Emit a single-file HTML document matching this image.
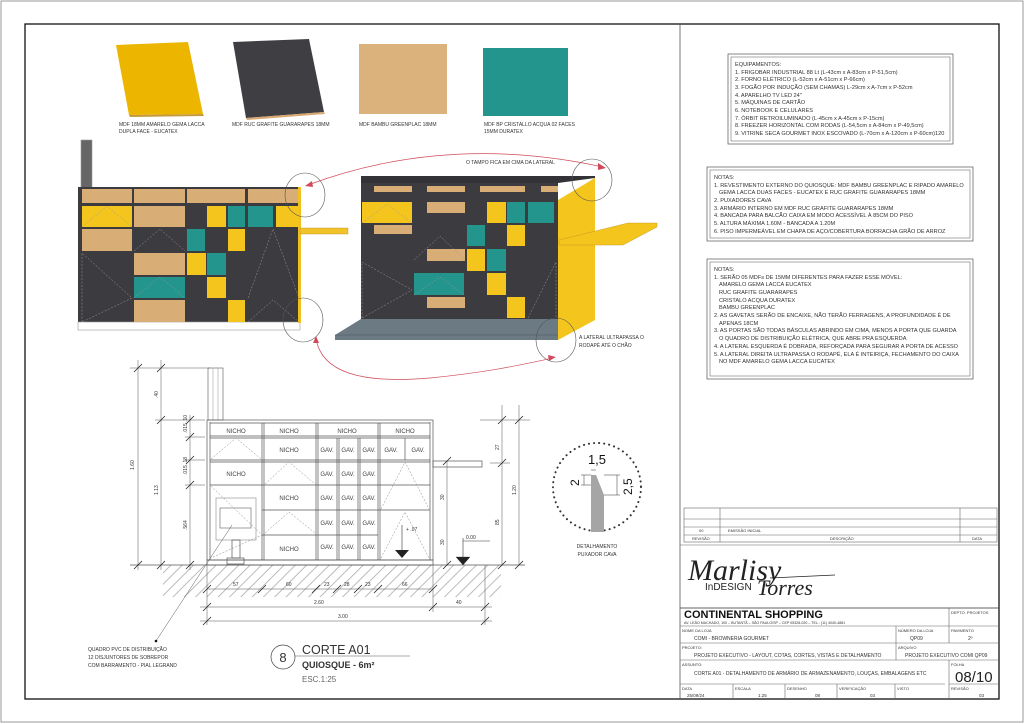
<!DOCTYPE html>
<html><head><meta charset="utf-8"><style>
html,body{margin:0;padding:0;background:#fff}
svg{display:block}
text{font-family:"Liberation Sans",sans-serif;fill:#333}
.s{font-size:5.6px}
.t{font-size:5px}
.m{font-size:6.5px;fill:#444}
.g{font-size:6px;fill:#444;text-anchor:middle}
</style></head><body>
<svg width="1024" height="724" viewBox="0 0 1024 724" xmlns="http://www.w3.org/2000/svg">
<defs>
<pattern id="h" width="8" height="8" patternUnits="userSpaceOnUse" patternTransform="rotate(45)">
<line x1="0" y1="0" x2="0" y2="8" stroke="#aaa" stroke-width="1.6"/></pattern>
</defs>
<rect x="1" y="1" width="1022" height="721" fill="#fff" stroke="#999" stroke-width="1"/>
<rect x="25" y="24" width="974" height="675" fill="none" stroke="#111" stroke-width="1.3"/>
<line x1="680" y1="24" x2="680" y2="699" stroke="#555" stroke-width="0.8"/>

<!-- swatches -->
<polygon points="116,45 188,42 203,114 129,115" fill="#ebb500"/>
<polygon points="129,115 203,114 204,116 130,117" fill="#c49a3a"/>
<polygon points="233,42 309,39 324,112 246,118" fill="#3f3e42"/>
<polygon points="246,118 324,112 325,114 247,120" fill="#d8a870"/>
<rect x="359" y="44" width="88" height="70" fill="#dcb27c"/>
<rect x="483" y="48" width="85" height="68" fill="#23958c"/>
<text class="t" x="119" y="126">MDF 18MM AMARELO GEMA LACCA</text>
<text class="t" x="119" y="133">DUPLA FACE - EUCATEX</text>
<text class="t" x="232" y="126">MDF RUC GRAFITE GUARARAPES 18MM</text>
<text class="t" x="359" y="126">MDF BAMBU GREENPLAC 18MM</text>
<text class="t" x="484" y="126">MDF BP CRISTALLO ACQUA 02 FACES</text>
<text class="t" x="484" y="133">15MM DURATEX</text>

<!-- left colored elevation -->
<rect x="81" y="140" width="11" height="49" fill="#666" stroke="#999" stroke-width="0.6"/>
<rect x="78" y="187" width="222" height="136" fill="#3c3b40"/>
<rect x="78" y="322" width="222" height="8" fill="#fff" stroke="#999" stroke-width="0.6"/>
<rect x="298" y="187" width="3" height="136" fill="#f0c020"/>
<rect x="300" y="228" width="48" height="6" fill="#f2c22a" stroke="#b89020" stroke-width="0.4"/>
<g fill="#d9ad76">
<rect x="82" y="189" width="50" height="14"/><rect x="134" y="189" width="51" height="14"/>
<rect x="187" y="189" width="58" height="14"/><rect x="248" y="189" width="50" height="14"/>
<rect x="134" y="206" width="51" height="21"/><rect x="82" y="229" width="50" height="22"/>
<rect x="134" y="253" width="51" height="22"/><rect x="134" y="300" width="51" height="22"/>
</g>
<g fill="#f4c51d">
<rect x="82" y="206" width="50" height="21"/><rect x="207" y="206" width="19" height="21"/>
<rect x="276" y="206" width="23" height="21"/><rect x="228" y="229" width="17" height="22"/>
<rect x="187" y="253" width="19" height="22"/><rect x="207" y="277" width="19" height="21"/>
<rect x="228" y="300" width="17" height="22"/>
</g>
<g fill="#23958c">
<rect x="228" y="206" width="17" height="21"/><rect x="248" y="206" width="25" height="21"/>
<rect x="187" y="229" width="18" height="22"/><rect x="207" y="253" width="19" height="22"/>
<rect x="134" y="277" width="51" height="21"/>
</g>
<g fill="none" stroke="#999" stroke-width="0.5" stroke-dasharray="2,1.5">
<polyline points="82,227 107,206 132,227"/><polyline points="134,251 160,229 185,251"/>
<polyline points="248,298 273,229 299,298"/><polyline points="82,322 82,253 132,298 82,322"/>
<polyline points="248,322 273,300 299,322"/><polyline points="134,298 160,277 185,298"/>
</g>

<!-- iso view -->
<polygon points="361,176 595,176 595,178 558,183 361,183" fill="#333236"/>
<rect x="361" y="183" width="197" height="136" fill="#3c3b40"/>
<polygon points="558,200 595,178 595,320 558,340" fill="#f4c51d"/>
<polygon points="335,335 361,319 558,319 558,340 335,340" fill="#6c7a84"/>
<line x1="335" y1="335" x2="558" y2="335" stroke="#4a555c" stroke-width="0.6"/>
<polygon points="559,240 628,223 657,223 657,227 623,245 559,245" fill="#f4c51d" stroke="#b89020" stroke-width="0.4"/>
<g fill="#d9ad76">
<rect x="374" y="186" width="38" height="6"/><rect x="427" y="186" width="38" height="6"/>
<rect x="480" y="186" width="45" height="6"/><rect x="541" y="186" width="17" height="6"/>
<rect x="427" y="202" width="38" height="11"/><rect x="374" y="225" width="38" height="9"/>
<rect x="427" y="249" width="38" height="12"/><rect x="427" y="297" width="38" height="11"/>
</g>
<g fill="#f4c51d">
<rect x="362" y="202" width="50" height="21"/><rect x="487" y="202" width="19" height="21"/>
<rect x="507" y="225" width="18" height="21"/><rect x="467" y="249" width="18" height="22"/>
<rect x="487" y="273" width="19" height="22"/><rect x="507" y="297" width="18" height="21"/>
</g>
<g fill="#23958c">
<rect x="507" y="202" width="18" height="21"/><rect x="528" y="202" width="26" height="21"/>
<rect x="467" y="225" width="18" height="21"/><rect x="487" y="249" width="19" height="22"/>
<rect x="414" y="273" width="50" height="22"/>
</g>
<g fill="none" stroke="#999" stroke-width="0.5" stroke-dasharray="2,1.5">
<polyline points="362,223 387,204 412,223"/><polyline points="414,260 440,236 465,260"/>
<polyline points="362,318 362,262 412,290 362,318"/><polyline points="414,295 440,277 464,295"/>
<polyline points="528,318 556,262 556,318"/>
</g>

<!-- circles & arrows -->
<g fill="none" stroke="#555" stroke-width="0.6">
<ellipse cx="305" cy="195" rx="20" ry="22"/><ellipse cx="303" cy="320" rx="20" ry="22"/>
<ellipse cx="592" cy="180" rx="20" ry="21"/><ellipse cx="556" cy="340" rx="20" ry="22"/>
</g>
<g fill="none" stroke="#d24a5a" stroke-width="0.7">
<path d="M308,185 C380,158 480,140 603,167"/>
<path d="M316,339 C322,372 360,384 430,378 C490,372 520,365 553,358"/>
</g>
<g fill="#d24a5a">
<polygon points="305,186 312,181 313,187"/><polygon points="606,168 598,163 598,170"/>
<polygon points="316,336 313,343 319,343"/><polygon points="556,357 548,355 549,361"/>
</g>
<text class="t" x="466" y="164">O TAMPO FICA EM CIMA DA LATERAL</text>
<text class="t" x="579" y="339">A LATERAL ULTRAPASSA O</text>
<text class="t" x="579" y="347">RODAPÉ ATÉ O CHÃO</text>

<!-- elevation drawing -->
<rect x="163" y="565" width="338" height="32" fill="url(#h)"/>
<line x1="130" y1="565" x2="525" y2="565" stroke="#555" stroke-width="0.7"/>
<rect x="208" y="368" width="15" height="52" fill="#fff" stroke="#555" stroke-width="0.6"/>
<line x1="213" y1="368" x2="213" y2="420" stroke="#777" stroke-width="0.4"/>
<line x1="218" y1="368" x2="218" y2="420" stroke="#777" stroke-width="0.4"/>
<g fill="none" stroke="#555" stroke-width="0.7">
<rect x="207" y="420" width="226" height="140"/>
<rect x="207" y="560" width="226" height="5"/>
<line x1="210" y1="422" x2="210" y2="560"/><line x1="430" y1="422" x2="430" y2="560"/>
<line x1="210" y1="423" x2="430" y2="423"/>
<line x1="210" y1="436" x2="430" y2="436"/><line x1="210" y1="438" x2="430" y2="438"/>
<line x1="210" y1="460" x2="430" y2="460"/><line x1="210" y1="462" x2="430" y2="462"/>
<line x1="210" y1="485" x2="430" y2="485"/><line x1="262" y1="510" x2="430" y2="510"/>
<line x1="262" y1="535" x2="378" y2="535"/>
<line x1="262" y1="423" x2="262" y2="560"/><line x1="264" y1="423" x2="264" y2="560"/>
<line x1="316" y1="423" x2="316" y2="560"/><line x1="318" y1="423" x2="318" y2="560"/>
<line x1="337" y1="438" x2="337" y2="560"/><line x1="339" y1="438" x2="339" y2="560"/>
<line x1="358" y1="438" x2="358" y2="560"/><line x1="360" y1="438" x2="360" y2="560"/>
<line x1="378" y1="423" x2="378" y2="560"/><line x1="380" y1="423" x2="380" y2="560"/>
<line x1="405" y1="438" x2="405" y2="460"/>
<rect x="433" y="461" width="49" height="6"/>
<rect x="216" y="498" width="40" height="42" stroke="#999"/>
<rect x="220" y="508" width="31" height="20" stroke="#777"/>
<rect x="232" y="540" width="8" height="18"/><rect x="227" y="558" width="17" height="6"/>
</g>
<g fill="none" stroke="#888" stroke-width="0.5" stroke-dasharray="2,1.5">
<polyline points="211,459 236,438 261,459"/><polyline points="265,484 289,462 315,484"/>
<polyline points="265,533 289,512 315,533"/><polyline points="381,509 405,462 429,509"/>
<polyline points="381,558 405,512 429,558"/><polyline points="211,486 262,535 211,558"/>
</g>
<g class="g">
<text class="g" x="236" y="433">NICHO</text><text class="g" x="289" y="433">NICHO</text>
<text class="g" x="347" y="433">NICHO</text><text class="g" x="405" y="433">NICHO</text>
<text class="g" x="289" y="452">NICHO</text><text class="g" x="236" y="476">NICHO</text>
<text class="g" x="289" y="500">NICHO</text><text class="g" x="289" y="551">NICHO</text>
<text class="g" x="327" y="452">GAV.</text><text class="g" x="348" y="452">GAV.</text><text class="g" x="369" y="452">GAV.</text>
<text class="g" x="391" y="452">GAV.</text><text class="g" x="418" y="452">GAV.</text>
<text class="g" x="327" y="476">GAV.</text><text class="g" x="348" y="476">GAV.</text><text class="g" x="369" y="476">GAV.</text>
<text class="g" x="327" y="500">GAV.</text><text class="g" x="348" y="500">GAV.</text><text class="g" x="369" y="500">GAV.</text>
<text class="g" x="327" y="525">GAV.</text><text class="g" x="348" y="525">GAV.</text><text class="g" x="369" y="525">GAV.</text>
<text class="g" x="327" y="549">GAV.</text><text class="g" x="348" y="549">GAV.</text><text class="g" x="369" y="549">GAV.</text>
</g>
<line x1="402" y1="525" x2="402" y2="555" stroke="#333" stroke-width="0.6"/>
<polygon points="395,550 409,550 402,558" fill="#222"/>
<text class="t" x="406" y="531">+ .07</text>
<line x1="463" y1="538" x2="463" y2="557" stroke="#333" stroke-width="0.6"/>
<line x1="463" y1="541" x2="490" y2="541" stroke="#333" stroke-width="0.5"/>
<polygon points="456,557 470,557 463,565" fill="#222" stroke="#222" stroke-width="0.3"/>
<text class="t" x="466" y="539">0.00</text>
<!-- dims -->
<g stroke="#555" stroke-width="0.5" fill="none">
<line x1="138" y1="360" x2="138" y2="570"/><line x1="161" y1="360" x2="161" y2="570"/>
<line x1="190" y1="415" x2="190" y2="570"/>
<line x1="130" y1="368" x2="210" y2="368"/><line x1="155" y1="420" x2="205" y2="420"/>
<line x1="185" y1="437" x2="205" y2="437"/><line x1="185" y1="460" x2="205" y2="460"/>
<line x1="185" y1="485" x2="205" y2="485"/>
<line x1="447" y1="461" x2="447" y2="565"/><line x1="502" y1="405" x2="502" y2="565"/>
<line x1="519" y1="405" x2="519" y2="565"/><line x1="480" y1="420" x2="530" y2="420"/>
<line x1="490" y1="463" x2="510" y2="463"/>
<line x1="207" y1="589" x2="433" y2="589"/>
<line x1="200" y1="607" x2="492" y2="607"/><line x1="200" y1="621" x2="492" y2="621"/>
<line x1="207" y1="565" x2="207" y2="625"/><line x1="433" y1="565" x2="433" y2="612"/>
<line x1="485" y1="565" x2="485" y2="625"/>
<line x1="156" y1="641" x2="232" y2="525"/>
</g>
<g stroke="#222" stroke-width="0.8">
<line x1="134" y1="372" x2="142" y2="364"/><line x1="134" y1="569" x2="142" y2="561"/>
<line x1="157" y1="372" x2="165" y2="364"/><line x1="157" y1="424" x2="165" y2="416"/>
<line x1="157" y1="569" x2="165" y2="561"/>
<line x1="186" y1="424" x2="194" y2="416"/><line x1="186" y1="441" x2="194" y2="433"/>
<line x1="186" y1="464" x2="194" y2="456"/><line x1="186" y1="489" x2="194" y2="481"/>
<line x1="186" y1="569" x2="194" y2="561"/>
<line x1="203" y1="611" x2="211" y2="603"/><line x1="429" y1="611" x2="437" y2="603"/>
<line x1="481" y1="611" x2="489" y2="603"/><line x1="203" y1="625" x2="211" y2="617"/>
<line x1="481" y1="625" x2="489" y2="617"/>
<line x1="203" y1="593" x2="211" y2="585"/><line x1="258" y1="593" x2="266" y2="585"/>
<line x1="312" y1="593" x2="320" y2="585"/><line x1="333" y1="593" x2="341" y2="585"/>
<line x1="354" y1="593" x2="362" y2="585"/><line x1="374" y1="593" x2="382" y2="585"/>
<line x1="429" y1="593" x2="437" y2="585"/>
<line x1="443" y1="465" x2="451" y2="457"/><line x1="443" y1="569" x2="451" y2="561"/>
<line x1="498" y1="424" x2="506" y2="416"/><line x1="498" y1="467" x2="506" y2="459"/>
<line x1="498" y1="569" x2="506" y2="561"/><line x1="515" y1="424" x2="523" y2="416"/>
<line x1="515" y1="569" x2="523" y2="561"/>
</g>
<circle cx="156" cy="641" r="1.3" fill="#111"/>
<g class="t">
<text class="t" transform="translate(134,470) rotate(-90)">1.60</text>
<text class="t" transform="translate(158,398) rotate(-90)">.40</text>
<text class="t" transform="translate(158,495) rotate(-90)">1.13</text>
<text class="t" transform="translate(187,433) rotate(-90)">.015 .10</text>
<text class="t" transform="translate(187,475) rotate(-90)">.015 .18</text>
<text class="t" transform="translate(187,530) rotate(-90)">.564</text>
<text class="t" transform="translate(444,500) rotate(-90)">30</text>
<text class="t" transform="translate(444,545) rotate(-90)">30</text>
<text class="t" transform="translate(499,450) rotate(-90)">27</text>
<text class="t" transform="translate(499,525) rotate(-90)">85</text>
<text class="t" transform="translate(516,495) rotate(-90)">1.20</text>
<text class="t" x="233" y="586">57</text><text class="t" x="286" y="586">60</text>
<text class="t" x="324" y="586">23</text><text class="t" x="344" y="586">28</text>
<text class="t" x="365" y="586">23</text><text class="t" x="402" y="586">66</text>
<text class="t" x="314" y="604">2.60</text><text class="t" x="456" y="604">40</text>
<text class="t" x="338" y="618">3.00</text>
</g>
<text class="t" x="88" y="651">QUADRO PVC DE DISTRIBUIÇÃO</text>
<text class="t" x="88" y="659">12 DISJUNTORES DE SOBREPOR</text>
<text class="t" x="88" y="667">COM BARRAMENTO - PIAL LEGRAND</text>
<circle cx="283" cy="657" r="12" fill="none" stroke="#444" stroke-width="0.7"/>
<text x="283" y="662" style="font-size:13px;text-anchor:middle">8</text>
<line x1="295" y1="656" x2="410" y2="656" stroke="#555" stroke-width="0.6"/>
<text x="302" y="654" style="font-size:12.5px">CORTE A01</text>
<text x="302" y="668" style="font-size:9px;font-weight:bold">QUIOSQUE - 6m²</text>
<text x="302" y="682" style="font-size:8px;fill:#666">ESC.1:25</text>

<!-- detail -->
<circle cx="597" cy="487" r="44" fill="none" stroke="#333" stroke-width="2" stroke-dasharray="0.1,5" stroke-linecap="round"/>
<polygon points="591,475 596,475 604,495 604,532 591,532" fill="#a5a5a5"/>
<g stroke="#333" stroke-width="0.5">
<line x1="591" y1="470" x2="596" y2="470"/><line x1="581" y1="475" x2="591" y2="475"/>
<line x1="584" y1="475" x2="584" y2="485"/><line x1="581" y1="485" x2="591" y2="485"/>
<line x1="604" y1="475" x2="620" y2="475"/><line x1="604" y1="495" x2="620" y2="495"/>
<line x1="617" y1="475" x2="617" y2="495"/>
</g>
<text x="597" y="464" style="font-size:13px;text-anchor:middle;fill:#111">1,5</text>
<text transform="translate(579,486) rotate(-90)" style="font-size:12px;fill:#111">2</text>
<text transform="translate(632,495) rotate(-90)" style="font-size:12px;fill:#111">2,5</text>
<text class="t" x="597" y="548" text-anchor="middle">DETALHAMENTO</text>
<text class="t" x="597" y="556" text-anchor="middle">PUXADOR CAVA</text>

<!-- equipment box -->
<rect x="728" y="54" width="225" height="90" fill="none" stroke="#555" stroke-width="0.7"/>
<rect x="731" y="57" width="219" height="84" fill="none" stroke="#555" stroke-width="0.5"/>
<g class="s">
<text class="s" x="735" y="66">EQUIPAMENTOS:</text>
<text class="s" x="735" y="74">1. FRIGOBAR  INDUSTRIAL 88 Lt (L-43cm x A-83cm x P-51,5cm)</text>
<text class="s" x="735" y="81">2. FORNO ELÉTRICO (L-52cm x A-51cm x P-66cm)</text>
<text class="s" x="735" y="89">3. FOGÃO POR INDUÇÃO (SEM CHAMAS) L-29cm x A-7cm x P-52cm</text>
<text class="s" x="735" y="97">4. APARELHO TV LED 24"</text>
<text class="s" x="735" y="104">5. MÁQUINAS DE CARTÃO</text>
<text class="s" x="735" y="112">6. NOTEBOOK E CELULARES</text>
<text class="s" x="735" y="120">7. ÓRBIT RETROILUMINADO (L-45cm x A-45cm x P-15cm)</text>
<text class="s" x="735" y="127">8. FREEZER HORIZONTAL COM RODAS (L-54,5cm x A-84cm x P-49,5cm)</text>
<text class="s" x="735" y="135">9. VITRINE SECA GOURMET INOX ESCOVADO (L-70cm x A-120cm x P-60cm)120</text>
</g>
<rect x="707" y="167" width="266" height="74" fill="none" stroke="#555" stroke-width="0.7"/>
<rect x="710" y="170" width="260" height="68" fill="none" stroke="#555" stroke-width="0.5"/>
<text class="s" x="714" y="179">NOTAS:</text>
<text class="s" x="714" y="187">1. REVESTIMENTO EXTERNO DO QUIOSQUE: MDF BAMBU GREENPLAC E RIPADO AMARELO</text>
<text class="s" x="719" y="194">GEMA LACCA DUAS FACES - EUCATEX E RUC GRAFITE GUARARAPES 18MM</text>
<text class="s" x="714" y="202">2. PUXADORES CAVA</text>
<text class="s" x="714" y="210">3. ARMÁRIO INTERNO EM MDF RUC GRAFITE GUARARAPES 18MM</text>
<text class="s" x="714" y="217">4. BANCADA PARA BALCÃO CAIXA EM MODO ACESSÍVEL À 85CM DO PISO</text>
<text class="s" x="714" y="225">5. ALTURA MÁXIMA 1.60M - BANCADA A 1.20M</text>
<text class="s" x="714" y="233">6. PISO IMPERMEÁVEL EM CHAPA DE AÇO/COBERTURA BORRACHA GRÃO DE ARROZ</text>
<rect x="707" y="259" width="266" height="120" fill="none" stroke="#555" stroke-width="0.7"/>
<rect x="710" y="262" width="260" height="114" fill="none" stroke="#555" stroke-width="0.5"/>
<text class="s" x="714" y="271">NOTAS:</text>
<text class="s" x="714" y="279">1. SERÃO 05 MDFs DE 15MM DIFERENTES PARA FAZER ESSE MÓVEL:</text>
<text class="s" x="719" y="286">AMARELO GEMA LACCA EUCATEX</text>
<text class="s" x="719" y="294">RUC GRAFITE GUARARAPES</text>
<text class="s" x="719" y="302">CRISTALO ACQUA DURATEX</text>
<text class="s" x="719" y="309">BAMBU GREENPLAC</text>
<text class="s" x="714" y="317">2. AS GAVETAS SERÃO DE ENCAIXE, NÃO TERÃO FERRAGENS, A PROFUNDIDADE É DE</text>
<text class="s" x="719" y="325">APENAS 18CM</text>
<text class="s" x="714" y="332">3. AS PORTAS SÃO TODAS BÁSCULAS ABRINDO EM CIMA, MENOS A PORTA QUE GUARDA</text>
<text class="s" x="719" y="340">O QUADRO DE DISTRIBUIÇÃO ELÉTRICA, QUE ABRE PRA ESQUERDA</text>
<text class="s" x="714" y="348">4. A LATERAL ESQUERDA É DOBRADA, REFORÇADA PARA SEGURAR A PORTA DE ACESSO</text>
<text class="s" x="714" y="356">5. A LATERAL DIREITA ULTRAPASSA O RODAPÉ, ELA É INTEIRIÇA, FECHAMENTO DO CAIXA</text>
<text class="s" x="719" y="363">NO MDF AMARELO GEMA LACCA EUCATEX</text>

<!-- title block -->
<g fill="none" stroke="#666" stroke-width="0.6">
<rect x="684" y="508" width="313" height="34"/>
<line x1="684" y1="519" x2="997" y2="519"/><line x1="684" y1="527" x2="997" y2="527"/>
<line x1="684" y1="535" x2="997" y2="535"/>
<line x1="720" y1="508" x2="720" y2="542"/><line x1="960" y1="508" x2="960" y2="542"/>
<line x1="680" y1="545" x2="999" y2="545"/>
<line x1="680" y1="608" x2="999" y2="608"/><line x1="680" y1="626" x2="999" y2="626"/>
<line x1="680" y1="643" x2="999" y2="643"/><line x1="680" y1="660" x2="999" y2="660"/>
<line x1="680" y1="684" x2="945" y2="684"/><line x1="949" y1="684" x2="999" y2="684"/>
<line x1="949" y1="608" x2="949" y2="643"/><line x1="896" y1="626" x2="896" y2="643"/>
<line x1="896" y1="643" x2="896" y2="660"/><line x1="949" y1="660" x2="949" y2="699"/>
<line x1="733" y1="684" x2="733" y2="699"/><line x1="785" y1="684" x2="785" y2="699"/>
<line x1="837" y1="684" x2="837" y2="699"/><line x1="895" y1="684" x2="895" y2="699"/>
</g>
<line x1="680" y1="608" x2="999" y2="608" stroke="#444" stroke-width="0.8"/>
<text class="t" x="699" y="532" style="font-size:4px">00</text>
<text class="t" x="728" y="532" style="font-size:4px">EMISSÃO INICIAL</text>
<text class="t" x="692" y="540" style="font-size:4px">REVISÃO</text>
<text class="t" x="830" y="540" style="font-size:4px">DESCRIÇÃO</text>
<text class="t" x="972" y="540" style="font-size:4px">DATA</text>
<text x="688" y="580" style="font-family:'Liberation Serif',serif;font-style:italic;font-size:30px;fill:#222">Marlisy</text>
<line x1="770" y1="578" x2="835" y2="575" stroke="#222" stroke-width="0.7"/>
<text x="705" y="590" style="font-size:10px;fill:#222">InDESIGN</text>
<text x="757" y="595" style="font-family:'Liberation Serif',serif;font-style:italic;font-size:22px;fill:#222">Torres</text>
<text x="684" y="618" style="font-size:11px;font-weight:bold;fill:#111">CONTINENTAL SHOPPING</text>
<text x="684" y="624" style="font-size:3.6px">AV. LEÃO MACHADO, 100 – BUTANTÃ – SÃO PAULO/SP – CEP 05328-020 – TEL.: (11) 4040-4881</text>
<text x="951" y="614" style="font-size:4px">DEPTO. PROJETOS</text>
<text x="682" y="632" style="font-size:4px">NOME DA LOJA</text>
<text x="694" y="640" class="t">COMI - BROWNERIA GOURMET</text>
<text x="898" y="632" style="font-size:4px">NÚMERO DA LOJA</text>
<text x="910" y="640" class="t">QP09</text>
<text x="951" y="632" style="font-size:4px">PAVIMENTO</text>
<text x="968" y="640" class="t">2º</text>
<text x="682" y="649" style="font-size:4px">PROJETO:</text>
<text x="694" y="657" class="t">PROJETO EXECUTIVO - LAYOUT, COTAS, CORTES, VISTAS E DETALHAMENTO</text>
<text x="898" y="649" style="font-size:4px">ARQUIVO</text>
<text x="905" y="657" class="t">PROJETO EXECUTIVO COMI QP09</text>
<text x="682" y="666" style="font-size:4px">ASSUNTO:</text>
<text x="694" y="675" class="t">CORTE A01 - DETALHAMENTO DE ARMÁRIO DE ARMAZENAMENTO, LOUÇAS, EMBALAGENS ETC</text>
<text x="951" y="666" style="font-size:4px">FOLHA</text>
<text x="955" y="682" style="font-size:15px;fill:#222">08/10</text>
<text x="682" y="690" style="font-size:4px">DATA</text><text x="687" y="697" style="font-size:4.5px">25/09/24</text>
<text x="735" y="690" style="font-size:4px">ESCALA</text><text x="758" y="697" style="font-size:4.5px">1:25</text>
<text x="787" y="690" style="font-size:4px">DESENHO</text><text x="815" y="697" style="font-size:4.5px">08</text>
<text x="839" y="690" style="font-size:4px">VERIFICAÇÃO</text><text x="870" y="697" style="font-size:4.5px">03</text>
<text x="897" y="690" style="font-size:4px">VISTO</text>
<text x="951" y="690" style="font-size:4px">REVISÃO</text><text x="979" y="697" style="font-size:4.5px">03</text>
</svg>
</body></html>
